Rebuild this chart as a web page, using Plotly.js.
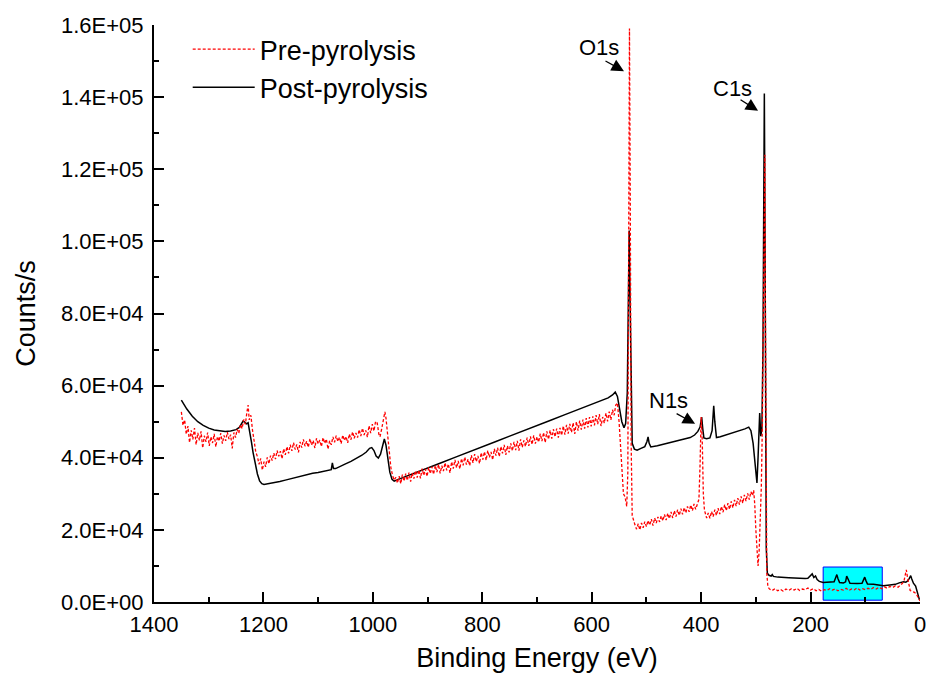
<!DOCTYPE html>
<html>
<head>
<meta charset="utf-8">
<script src="https://cdn.plot.ly/plotly-3.0.1.min.js"></script>
<style>
html,body{margin:0;padding:0;background:#fff;}
#chart{width:928px;height:680px;}
</style>
</head>
<body>
<div id="chart"></div>
<script>
// Series names
const seriesNames = ['Pre-pyrolysis', 'Post-pyrolysis'];

// Post-pyrolysis spectrum: [binding energy (eV), counts/s]
const postPyrolysis = [
[1350,56000],[1340,53500],[1330,51500],[1320,50000],[1310,49000],[1300,48200],[1290,47700],[1280,47400],
[1270,47300],[1260,47400],[1250,47800],[1244,48400],[1240,49600],[1237,50200],[1234,49800],[1231,49400],
[1228,49700],[1225,47500],[1222,44500],[1219,41500],[1215,38500],[1211,35500],[1207,33600],[1203,32800],
[1199,32600],[1190,32800],[1180,33100],[1170,33400],[1160,33800],[1150,34200],[1140,34600],[1130,35000],
[1120,35400],[1110,35700],[1100,35900],[1090,36200],[1080,36500],[1076,36700],[1074,38600],[1072,37000],
[1068,37000],[1060,37500],[1050,38300],[1040,39000],[1030,39800],[1020,40700],[1012,41600],[1006,42600],
[1002,42800],[998,42000],[994,40500],[990,39900],[986,41000],[982,43800],[979,45200],[976,43500],
[973,39500],[969,36000],[965,34000],[961,33500],[950,34200],[925,35600],[900,37100],[875,38600],
[850,40100],[825,41500],[800,43000],[775,44500],[750,46000],[725,47400],[700,48900],[675,50400],
[650,51900],[625,53300],[600,54800],[580,56000],[570,56600],[562,57400],[557,58200],[553,57000],
[549,53500],[545,50000],[541,48300],[538,49500],[535,58000],[533,80000],[531.5,103000],[530,85000],
[528,55000],[526,44000],[522,42400],[517,42100],[510,42600],[503,43100],[499,44500],[497,45800],
[495,44000],[492,43000],[480,43300],[460,44000],[440,44800],[420,45600],[412,46300],[406,47300],
[402,48500],[399,51300],[397,48000],[395,45500],[390,45300],[384,45500],[380,47500],[377,54400],
[375,50000],[372,45600],[365,45800],[350,46500],[335,47200],[320,48000],[313,48500],[309,47500],
[305,44000],[301,38000],[298,33000],[296,40000],[293,52400],[291,46000],[289,48000],[287,70000],
[285.5,120000],[284.5,141000],[283.5,110000],[282.5,50000],[281,15000],[279,8000],[276,7400],[272,7200],
[270,7600],[268,7100],[260,6900],[240,6700],[220,6500],[210,6500],[205,6600],[200,7400],
[197,7800],[194,6800],[191,7200],[188,6200],[184,5700],[177,5400],[165,5400],[157,5600],
[154,6800],[152,7600],[150,6500],[147,5400],[140,5300],[136,5600],[134,7200],[131,6000],
[128,5200],[115,5100],[106,5200],[103,6200],[101,6900],[99,6000],[96,5000],[85,4900],
[75,4700],[67,4500],[55,4700],[45,4900],[38,5300],[30,5600],[26,5500],[23,5800],
[20,6400],[17,7300],[15,6400],[12,5200],[8,4400],[4,2500],[1,600]
];

// Pre-pyrolysis spectrum: [binding energy (eV), counts/s]
const prePyrolysis = [
[1350,52700],[1347,49000],[1344,50500],[1341,46500],[1338,48800],[1335,44200],[1332,47600],[1329,45100],
[1326,48200],[1323,43600],[1320,46900],[1317,44800],[1314,47300],[1311,42700],[1308,46100],[1305,44400],
[1302,47000],[1299,43300],[1296,45800],[1293,44100],[1290,46600],[1287,43000],[1284,45900],[1281,44600],
[1278,46800],[1275,43900],[1272,46200],[1269,44700],[1266,47100],[1263,45200],[1260,46400],[1257,42600],
[1254,47000],[1251,45600],[1248,47900],[1245,46800],[1242,49200],[1239,48100],[1236,50600],[1233,49300],
[1230,52800],[1228,54600],[1226,50500],[1223,51800],[1220,47700],[1217,44500],[1214,41600],[1211,40300],
[1208,38200],[1205,39800],[1202,36600],[1199,38900],[1196,37500],[1193,40100],[1190,38300],[1187,40600],
[1184,39200],[1181,41300],[1178,39600],[1175,42000],[1172,40400],[1169,41800],[1166,39700],[1163,42500],
[1160,40800],[1157,43100],[1154,41200],[1151,43600],[1148,41900],[1145,44200],[1142,42300],[1139,43700],
[1136,41500],[1133,44400],[1130,42800],[1127,45100],[1124,43200],[1121,44600],[1118,42900],[1115,45300],
[1112,43500],[1109,44800],[1106,42700],[1103,45400],[1100,43800],[1097,44900],[1094,43100],[1091,45600],
[1088,44000],[1085,45200],[1082,42400],[1079,44700],[1076,43600],[1073,45800],[1070,44300],[1067,46100],
[1064,44500],[1061,45700],[1058,43900],[1055,46300],[1052,44800],[1049,45900],[1046,44100],[1043,46600],
[1040,45000],[1037,47200],[1034,45400],[1031,46900],[1028,45600],[1025,47800],[1022,46000],[1019,48200],
[1016,46300],[1013,47600],[1010,45700],[1007,48900],[1004,46800],[1001,49300],[998,47400],[995,50100],
[992,49600],[989,46500],[987,45800],[984,47900],[981,50800],[978,52700],[976,51000],[973,46300],
[970,41300],[967,37200],[964,35100],[961,33800],[958,34600],[955,33000],[952,34900],[949,32800],
[946,35300],[943,33500],[940,35600],[937,33700],[934,35900],[931,33400],[928,35800],[925,34200],
[922,36400],[919,34500],[916,36600],[913,34300],[910,37000],[907,35100],[904,36900],[901,34800],
[898,37300],[895,35600],[892,37500],[889,35400],[886,37900],[883,36000],[880,38200],[877,35700],
[874,37800],[871,36300],[868,38600],[865,36500],[862,38300],[859,35800],[856,38900],[853,37000],
[850,39400],[847,37200],[844,39100],[841,36900],[838,39800],[835,37900],[832,40200],[829,38100],
[826,39600],[823,37800],[820,40700],[817,38600],[814,41000],[811,38900],[808,40500],[805,38400],
[802,41400],[799,39500],[796,41700],[793,39300],[790,42000],[787,40100],[784,41600],[781,39400],
[778,42500],[775,40600],[772,42800],[769,40300],[766,43100],[763,41200],[760,43600],[757,40800],
[754,43300],[751,41500],[748,44000],[745,41900],[742,44400],[739,42100],[736,44700],[733,42000],
[730,45100],[727,42900],[724,44800],[721,43100],[718,45600],[715,43300],[712,45900],[709,43700],
[706,46200],[703,43900],[700,45800],[697,44300],[694,46700],[691,44600],[688,47000],[685,44200],
[682,47300],[679,45100],[676,47600],[673,45300],[670,47900],[667,45800],[664,48100],[661,45600],
[658,48300],[655,46200],[652,48800],[649,46400],[646,49100],[643,46700],[640,49400],[637,47000],
[634,49700],[631,46600],[628,50000],[625,47500],[622,50300],[619,47800],[616,50600],[613,48100],
[610,51000],[607,48400],[604,51300],[601,48700],[598,51500],[595,49000],[592,51800],[589,49300],
[586,52100],[583,48800],[580,51300],[577,49600],[574,52400],[571,50100],[568,52800],[565,50500],
[562,53300],[559,51800],[556,54600],[553,55200],[550,50000],[548,44900],[545,36000],[542,30000],
[539,29100],[536,26500],[534,36000],[532,120000],[531,159000],[529.5,110000],[528,45000],[526,24000],
[524,22700],[521,21400],[518,20200],[515,21700],[512,20000],[509,21900],[506,20600],[503,22300],
[500,20900],[497,22600],[494,21300],[491,23000],[488,21200],[485,23300],[482,21900],[479,23600],
[476,22200],[473,23900],[470,22500],[467,24300],[464,22700],[461,24600],[458,23100],[455,25000],
[452,23300],[449,25300],[446,23700],[443,25600],[440,24000],[437,25900],[434,24300],[431,26200],
[428,24700],[425,26500],[422,25000],[419,26900],[416,25300],[413,27200],[410,25700],[407,27000],
[404,28500],[402,38000],[400,51300],[398,45000],[396,30000],[394,25500],[392,24200],[390,23300],
[387,24700],[384,23200],[381,25100],[378,23700],[375,25600],[372,24000],[369,26000],[366,24400],
[363,26500],[360,24900],[357,27000],[354,25300],[351,27400],[348,25700],[345,27900],[342,26100],
[339,28300],[336,26600],[333,28800],[330,27000],[327,29300],[324,27400],[321,29700],[318,28000],
[315,30100],[312,28400],[309,30600],[306,29500],[304,31000],[302,27000],[300,20000],[298,13000],
[296,10000],[294,14000],[292,24000],[290,32000],[288,50000],[286,85000],[284.5,115000],[283.5,124000],
[282.5,80000],[281.5,25000],[280,8000],[278,4200],[275,3600],[270,3200],[265,3700],[260,3100],
[255,3500],[250,3000],[245,3600],[240,3200],[235,3700],[230,3300],[225,3800],[220,3200],
[215,3600],[210,3400],[205,3900],[200,3300],[195,3700],[190,3100],[185,3500],[180,3000],
[175,3400],[170,3200],[165,3700],[160,3300],[155,3600],[150,3100],[145,3500],[140,3300],
[135,3800],[130,3200],[125,3600],[120,3400],[115,3900],[110,3300],[105,3700],[100,3400],
[95,3800],[90,3500],[85,4000],[80,3600],[75,4100],[70,3700],[65,4200],[60,3800],
[55,4300],[50,4000],[45,4500],[40,4100],[35,4700],[32,5200],[29,6000],[27,7500],
[25,8900],[23,7000],[21,5000],[18,3200],[14,2900],[10,2700],[6,2000],[2,800],[0,300]
];

// Tick labels
const yTickVals = [0, 20000, 40000, 60000, 80000, 100000, 120000, 140000, 160000];
const yTickText = ['0.0E+00','2.0E+04','4.0E+04','6.0E+04','8.0E+04','1.0E+05','1.2E+05','1.4E+05','1.6E+05'];
const xTickVals = [1400, 1200, 1000, 800, 600, 400, 200, 0];

// Peak labels
const peakLabels = ['O1s', 'C1s', 'N1s'];

const FONT = 'Arial, "Liberation Sans", Helvetica, sans-serif';

const tracePost = {
  type: 'scatter', mode: 'lines', name: seriesNames[1],
  x: postPyrolysis.map(p => p[0]), y: postPyrolysis.map(p => p[1]),
  line: {color: '#000000', width: 1.5}, hoverinfo: 'skip'
};
const tracePre = {
  type: 'scatter', mode: 'lines', name: seriesNames[0],
  x: prePyrolysis.map(p => p[0]), y: prePyrolysis.map(p => p[1]),
  line: {color: '#FF0000', width: 1.3, dash: '3px,2px'}, hoverinfo: 'skip'
};

const arrowStyle = {showarrow: true, arrowhead: 2, arrowsize: 1.9, arrowwidth: 1.3, arrowcolor: '#000', text: ''};
const labelFont = {family: FONT, size: 22, color: '#000'};

const layout = {
  width: 928, height: 680,
  margin: {l: 154, r: 8, t: 25, b: 78},
  paper_bgcolor: '#ffffff', plot_bgcolor: '#ffffff',
  font: {family: FONT, color: '#000'},
  showlegend: true,
  legend: {
    x: 0.044, y: 1.0, xanchor: 'left', yanchor: 'top',
    font: {family: FONT, size: 27, color: '#000'},
    bgcolor: 'rgba(0,0,0,0)', traceorder: 'reversed', itemwidth: 62, tracegroupgap: 0
  },
  xaxis: {
    range: [1400, 0], autorange: false,
    tickmode: 'array', tickvals: xTickVals,
    ticks: 'inside', ticklen: 10, tickwidth: 2, tickcolor: '#000',
    showline: true, linewidth: 2, linecolor: '#000',
    showgrid: false, zeroline: false, mirror: false,
    tickfont: {family: FONT, size: 22, color: '#000'},
    ticklabelstandoff: 2,
    minor: {tickmode: 'linear', tick0: 0, dtick: 100, ticks: 'inside', ticklen: 5, tickwidth: 2, tickcolor: '#000', showgrid: false},
    title: {text: 'Binding Energy (eV)', font: {family: FONT, size: 27, color: '#000'}, standoff: 12}
  },
  yaxis: {
    range: [0, 160000], autorange: false,
    tickmode: 'array', tickvals: yTickVals, ticktext: yTickText,
    ticks: 'inside', ticklen: 10, tickwidth: 2, tickcolor: '#000',
    showline: true, linewidth: 2, linecolor: '#000',
    showgrid: false, zeroline: false, mirror: false,
    tickfont: {family: FONT, size: 22, color: '#000'},
    ticklabelstandoff: 4,
    minor: {tickmode: 'linear', tick0: 0, dtick: 10000, ticks: 'inside', ticklen: 5, tickwidth: 2, tickcolor: '#000', showgrid: false},
    title: {text: 'Counts/s', font: {family: FONT, size: 27, color: '#000'}, standoff: 18}
  },
  shapes: [{
    type: 'rect', xref: 'x', yref: 'y', x0: 177, x1: 69, y0: 500, y1: 9700,
    fillcolor: '#00FFFF', line: {color: '#0000FF', width: 1}, layer: 'below'
  }],
  annotations: [
    {x: 587, y: 153900, text: peakLabels[0], showarrow: false, font: labelFont},
    Object.assign({x: 541, y: 147200, ax: -20, ay: -11}, arrowStyle),
    {x: 342, y: 142400, text: peakLabels[1], showarrow: false, font: labelFont},
    Object.assign({x: 296, y: 136200, ax: -19, ay: -12}, arrowStyle),
    {x: 459, y: 55900, text: peakLabels[2], showarrow: false, font: labelFont},
    Object.assign({x: 411, y: 49400, ax: -20, ay: -11}, arrowStyle)
  ]
};

Plotly.newPlot('chart', [tracePost, tracePre], layout, {displayModeBar: false, staticPlot: true});
</script>
</body>
</html>
